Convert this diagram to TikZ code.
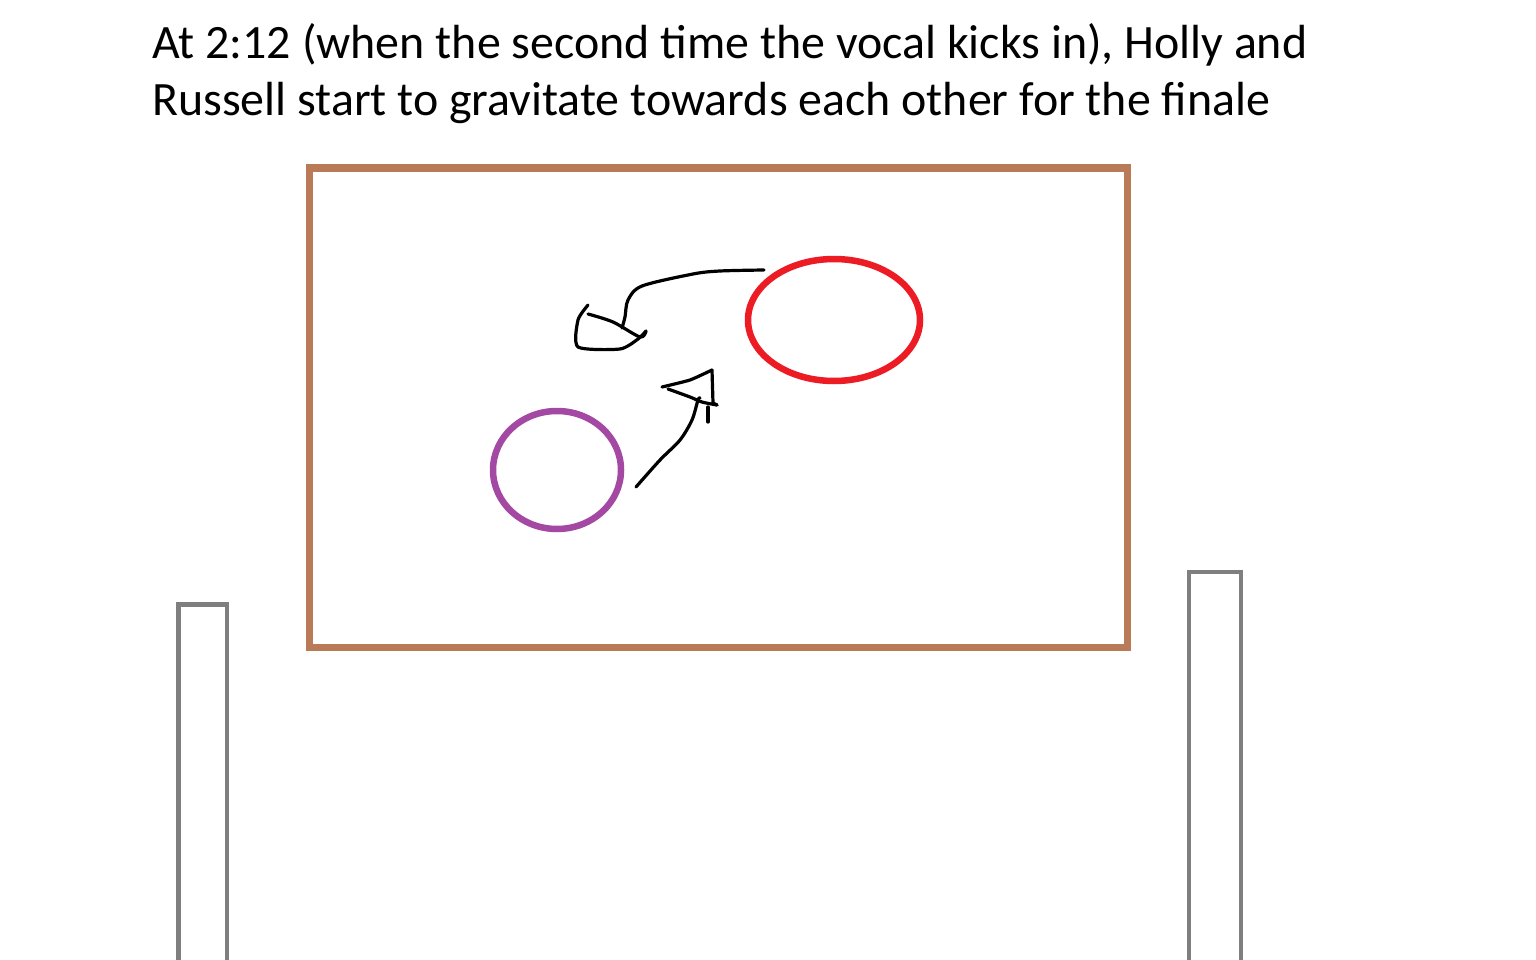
\documentclass[tikz,border=0pt]{standalone}
\usepackage{fontspec}
\setmainfont{Carlito}
\definecolor{framebrown}{RGB}{185,122,87}
\definecolor{hollyred}{RGB}{237,28,36}
\definecolor{russpurple}{RGB}{163,73,164}
\definecolor{postgrey}{RGB}{127,127,127}
\tikzset{
  txt/.style={anchor=base west, inner sep=0pt, font=\fontsize{47.9}{57}\selectfont},
  pen/.style={draw=black, line width=3.2pt, line cap=round, line join=round},
  post/.style={draw=postgrey, line width=4.8pt},
}
\begin{document}
\begin{tikzpicture}[x=1pt,y=-1pt]
\useasboundingbox (0,0) rectangle (1536,960);
\fill[white] (0,0) rectangle (1536,960);
\node[txt] (l1) at (152,59) {At 2:12 (when the second time the vocal kicks in), Holly and};
\node[txt] (l2) at (152,116) {Russell start to gravitate towards each other for the finale};
% stage
\draw[draw=framebrown, line width=7.5pt] (309.5,168) rectangle (1127.5,647.5);
% posts
\draw[post] (178.5,970) -- (178.5,604.5) -- (227,604.5) -- (227,970);
\draw[post] (1189,970) -- (1189,572) -- (1241,572) -- (1241,970);
% people
\draw[draw=hollyred, line width=6.5pt] (834,320) ellipse [x radius=86, y radius=61];
\draw[draw=russpurple, line width=6.5pt] (557,470) ellipse [x radius=64, y radius=59];
% arrow from Holly
\draw[pen] plot[smooth, tension=0.5] coordinates {(764,270) (720,271) (693,274) (642,286) (628,300) (625,317) (622,328)};
\draw[pen] plot[smooth, tension=0.5] coordinates {(588,314) (613,322) (640,337) (646,331)};
\draw[pen] plot[smooth, tension=0.4] coordinates {(588,305) (578,320) (578,347) (620,349) (638,339) (646,331)};
% arrow from Russell
\draw[pen] plot[smooth, tension=0.5] coordinates {(636,487) (660,460) (680,440) (692,420) (698,400) (700,398)};
\draw[pen] plot[smooth, tension=0.3] coordinates {(662,387) (690,380) (712,370)};
\draw[pen] (712,370) -- (713,403) -- (717,405);
\draw[pen] plot[smooth, tension=0.5] coordinates {(668,389) (690,397) (702,402) (717,405)};
\draw[pen] (708,407) -- (708,422);
\end{tikzpicture}
\end{document}
